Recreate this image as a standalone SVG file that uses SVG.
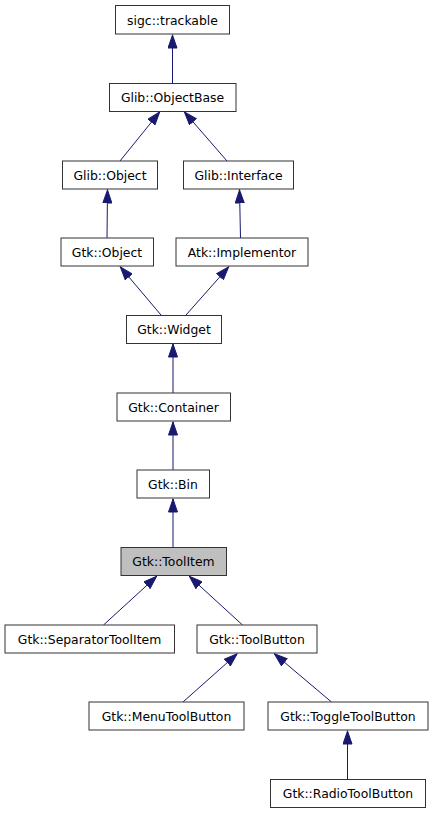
<svg xmlns="http://www.w3.org/2000/svg" width="433" height="813" viewBox="0 0 433 813">
<style>
.n rect{fill:#ffffff;stroke:#333333;stroke-width:1}
.n.cur rect{fill:#bfbfbf}
.n text{font-family:"DejaVu Sans","Liberation Sans",sans-serif;font-size:12.4px;fill:#000000;text-anchor:middle}
.e line{stroke:#191970;stroke-width:1;fill:none;marker-end:url(#ah)}
</style>
<defs>
<marker id="ah" markerUnits="userSpaceOnUse" viewBox="0 0 14 10" refX="14" refY="5" markerWidth="14" markerHeight="10" orient="auto">
<path d="M0.5,0.5 L13.5,5 L0.5,9.5 Z" fill="#191970" stroke="#191970" stroke-width="1"/>
</marker>
</defs>
<rect width="433" height="813" fill="#ffffff"/>
<g id="edges" class="e">
<line x1="172.5" y1="84" x2="172.5" y2="34.5"/>
<line x1="120" y1="161" x2="160" y2="111.5"/>
<line x1="227" y1="161" x2="184" y2="111.5"/>
<line x1="107" y1="238" x2="107.5" y2="189.5"/>
<line x1="240.5" y1="238" x2="239.5" y2="189.5"/>
<line x1="161" y1="315" x2="120" y2="266.5"/>
<line x1="186" y1="315" x2="229" y2="266.5"/>
<line x1="173" y1="393" x2="173" y2="343.5"/>
<line x1="173" y1="470" x2="173" y2="421.5"/>
<line x1="173" y1="547" x2="173" y2="498.5"/>
<line x1="103.5" y1="625" x2="157" y2="576"/>
<line x1="242.5" y1="625" x2="189" y2="576"/>
<line x1="183" y1="702" x2="237.5" y2="653.5"/>
<line x1="331.5" y1="702" x2="274" y2="653.5"/>
<line x1="347.5" y1="779" x2="347.5" y2="730.5"/>
</g>
<g id="sigc_trackable" class="n"><rect x="115.5" y="5.5" width="114" height="28.5"/><text x="172.5" y="25">sigc::trackable</text></g>
<g id="Glib_ObjectBase" class="n"><rect x="109.5" y="83.5" width="126.5" height="28"/><text x="172.5" y="102">Glib::ObjectBase</text></g>
<g id="Glib_Object" class="n"><rect x="62.5" y="161" width="95" height="28"/><text x="110" y="179.5">Glib::Object</text></g>
<g id="Glib_Interface" class="n"><rect x="183.5" y="161" width="110" height="28"/><text x="238.5" y="179.5">Glib::Interface</text></g>
<g id="Gtk_Object" class="n"><rect x="61" y="238" width="92.5" height="28"/><text x="107" y="256.5">Gtk::Object</text></g>
<g id="Atk_Implementor" class="n"><rect x="176" y="238" width="132" height="28"/><text x="242" y="256.5">Atk::Implementor</text></g>
<g id="Gtk_Widget" class="n"><rect x="126.5" y="315.5" width="95" height="28"/><text x="174" y="334">Gtk::Widget</text></g>
<g id="Gtk_Container" class="n"><rect x="117" y="393" width="113.5" height="28"/><text x="173.5" y="411.5">Gtk::Container</text></g>
<g id="Gtk_Bin" class="n"><rect x="137" y="470" width="72.5" height="28"/><text x="173" y="488.5">Gtk::Bin</text></g>
<g id="Gtk_ToolItem" class="n cur"><rect x="121" y="547.5" width="105.5" height="28"/><text x="173.5" y="566">Gtk::ToolItem</text></g>
<g id="Gtk_SeparatorToolItem" class="n"><rect x="5" y="625" width="169.5" height="28"/><text x="89.5" y="643.5">Gtk::SeparatorToolItem</text></g>
<g id="Gtk_ToolButton" class="n"><rect x="197" y="625" width="120" height="28"/><text x="257" y="643.5">Gtk::ToolButton</text></g>
<g id="Gtk_MenuToolButton" class="n"><rect x="89" y="702" width="155" height="28"/><text x="166.5" y="720.5">Gtk::MenuToolButton</text></g>
<g id="Gtk_ToggleToolButton" class="n"><rect x="268" y="702" width="160" height="28"/><text x="348" y="720.5">Gtk::ToggleToolButton</text></g>
<g id="Gtk_RadioToolButton" class="n"><rect x="270.5" y="779.5" width="155" height="28"/><text x="348" y="798">Gtk::RadioToolButton</text></g>
</svg>
